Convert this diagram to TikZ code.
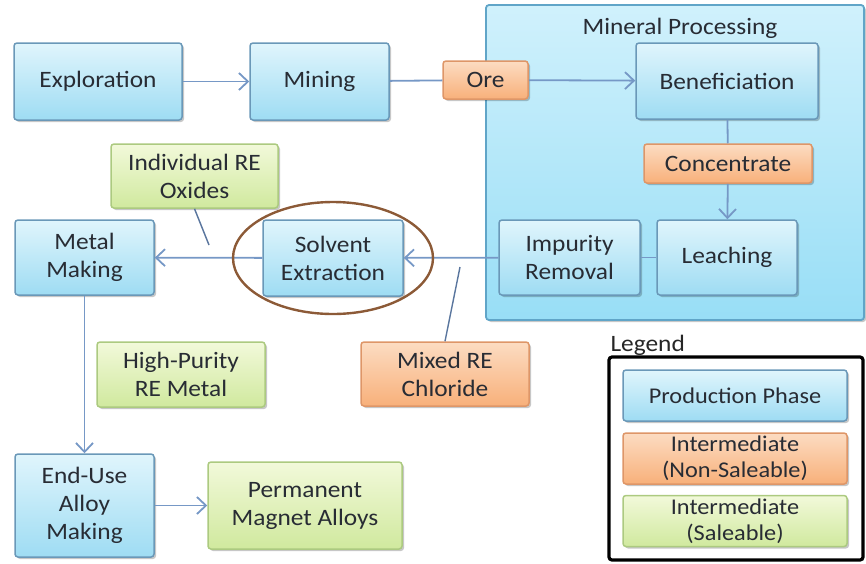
\documentclass[tikz,border=0pt]{standalone}
\usepackage{fontspec}
\setmainfont{Carlito}[FakeStretch=1.08]
\usetikzlibrary{arrows.meta,shapes.geometric,positioning,shadows}
\definecolor{phasetop}   {RGB}{224,245,252}
\definecolor{phasebot}   {RGB}{158,220,243}
\definecolor{phaseline}  {RGB}{106,152,184}
\definecolor{nonsaletop} {RGB}{252,220,194}
\definecolor{nonsalebot} {RGB}{248,176,122}
\definecolor{nonsaleline}{RGB}{222,150,104}
\definecolor{saletop}    {RGB}{242,249,218}
\definecolor{salebot}    {RGB}{208,233,158}
\definecolor{saleline}   {RGB}{172,202,128}
\definecolor{mptop}      {RGB}{208,241,252}
\definecolor{mpbot}      {RGB}{152,222,246}
\definecolor{mpline}     {RGB}{96,165,200}
\definecolor{flowblue}   {RGB}{118,152,198}
\definecolor{tieblue}    {RGB}{90,118,158}
\definecolor{ringbrown}  {RGB}{140,90,55}
\definecolor{inktext}    {RGB}{40,44,52}
\tikzset{
  basebox/.style={draw, rounded corners=3pt, align=center, text=inktext,
                  font=\fontsize{23.5}{28}\selectfont, line width=1.5pt,
                  inner sep=2pt, minimum width=#1,
                  drop shadow={shadow xshift=2pt, shadow yshift=-2pt,
                               opacity=0.22, fill=black}},
  basebox/.default=140pt,
  phasebox/.style  ={basebox=#1, top color=phasetop,   bottom color=phasebot,   draw=phaseline},
  phasebox/.default=140pt,
  nonsalebox/.style={basebox=#1, top color=nonsaletop, bottom color=nonsalebot, draw=nonsaleline},
  nonsalebox/.default=168pt,
  salebox/.style   ={basebox=#1, top color=saletop,    bottom color=salebot,    draw=saleline},
  salebox/.default=168pt,
  legitem/.style   ={minimum height=51pt, inner sep=0pt,
                     font=\fontsize{22.5}{26}\selectfont},
  flow/.style      ={draw=flowblue, line width=1.8pt,
                     -{Straight Barb[length=9pt,width=17pt]}},
  link/.style      ={draw=flowblue, line width=1.8pt},
  tie/.style       ={draw=tieblue, line width=1.4pt},
}
\begin{document}
\begin{tikzpicture}[x=1pt,y=-1pt]
  \useasboundingbox (0,0) rectangle (866,563);
  %% mineral processing frame
  \node[draw=mpline, line width=1.8pt, rounded corners=3pt,
        top color=mptop, bottom color=mpbot,
        minimum width=378pt, minimum height=315pt,
        drop shadow={shadow xshift=2pt, shadow yshift=-2pt, opacity=0.22, fill=black}]
        (mpframe) at (675,162.5) {};
  \node[text=inktext, font=\fontsize{23.5}{28}\selectfont] (mptitle) at (680,28) {Mineral Processing};
  %% production phases
  \node[phasebox=168pt, minimum height=77pt] (expl)   at (98,81.5)   {Exploration};
  \node[phasebox=139pt, minimum height=77pt] (mine)   at (319.5,81.5) {Mining};
  \node[phasebox=182pt, minimum height=76pt] (benef)  at (727,81)    {Beneficiation};
  \node[phasebox, minimum height=75pt]       (leach)  at (727,257.5) {Leaching};
  \node[phasebox=141pt, minimum height=75pt] (impur)  at (569.5,257.5) {Impurity\\Removal};
  \node[phasebox, minimum height=76pt]       (solv)   at (333,258)   {Solvent\\Extraction};
  \node[phasebox=139pt, minimum height=75pt] (metal)  at (84.5,257.5) {Metal\\Making};
  \node[phasebox=139pt, minimum height=103pt] (enduse) at (84.5,505.5) {End-Use\\Alloy\\Making};
  %% intermediates
  \node[nonsalebox=85pt, minimum height=38pt] (ore)   at (485.5,80)  {Ore};
  \node[nonsalebox, minimum height=39pt]      (conc)  at (728,163.5) {Concentrate};
  \node[nonsalebox, minimum height=64pt]      (mixed) at (445,374)   {Mixed RE\\Chloride};
  \node[salebox=167pt, minimum height=64pt]   (oxide) at (194.5,176) {Individual RE\\Oxides};
  \node[salebox, minimum height=65pt]         (hpure) at (181,374.5) {High-Purity\\RE Metal};
  \node[salebox=194pt, minimum height=87pt]   (magnet) at (305,505.5) {Permanent\\Magnet Alloys};
  %% flow
  \draw[flow] (expl) -- (mine);
  \draw[link] (mine) -- (ore);
  \draw[flow] (ore) -- (benef);
  \draw[link] (benef) -- (conc);
  \draw[flow] (conc) -- (leach);
  \draw[link] (leach) -- (impur);
  \draw[flow] (impur) -- (solv);
  \draw[flow] (solv) -- (metal);
  \draw[flow] (metal) -- (enduse);
  \draw[flow] (enduse) -- (magnet);
  \coordinate (oxfoot)  at (209,245);
  \coordinate (mixfoot) at (460,267);
  \draw[tie] (oxide.south) -- (oxfoot);
  \draw[tie] (mixed.north) -- (mixfoot);
  \node[ellipse, draw=ringbrown, line width=2.4pt,
        minimum width=200pt, minimum height=112pt] (ring) at (solv) {};
  %% legend
  \node[anchor=west, text=black!85, font=\fontsize{23.5}{28}\selectfont] (leglabel) at (607,345) {Legend};
  \node[draw=black, line width=3.2pt, rounded corners=3pt,
        minimum width=254pt, minimum height=203pt] (legbox) at (736,458.5) {};
  \node[phasebox=224pt, legitem]   (legprod) at (735,395.5) {Production Phase};
  \node[nonsalebox=224pt, legitem] (legnon)  at (735,458.5) {Intermediate\\(Non-Saleable)};
  \node[salebox=224pt, legitem]    (legsale) at (735,521)   {Intermediate\\(Saleable)};
\end{tikzpicture}
\end{document}
